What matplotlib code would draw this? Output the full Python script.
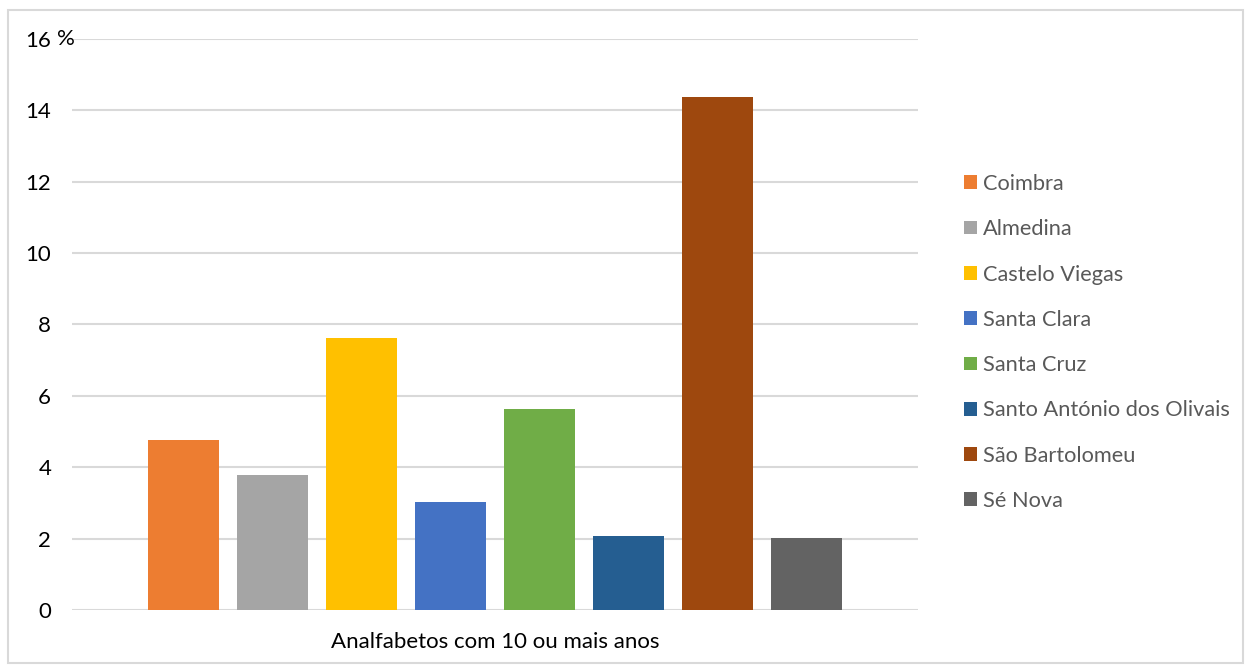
import matplotlib.pyplot as plt
from matplotlib.patches import Rectangle

plt.rcParams['font.family'] = ['Lato', 'DejaVu Sans']

freguesias = ['Coimbra', 'Almedina', 'Castelo Viegas', 'Santa Clara',
              'Santa Cruz', 'Santo António dos Olivais', 'São Bartolomeu',
              'Sé Nova']
valores = [4.77, 3.79, 7.63, 3.04, 5.64, 2.06, 14.38, 2.03]
cores = ['#ED7D31', '#A5A5A5', '#FFC000', '#4472C4',
         '#70AD47', '#255E91', '#9E480E', '#636363']
yticks = [0, 2, 4, 6, 8, 10, 12, 14, 16]
categoria = 'Analfabetos com 10 ou mais anos'

fs = 16

fig = plt.figure(figsize=(12.46, 6.65), dpi=100)
ax = fig.add_axes([0.0578, 0.0827, 0.679, 0.8587])

for i, (nome, v, c) in enumerate(zip(freguesias, valores, cores)):
    ax.bar(i, v, width=0.8, color=c, label=nome, zorder=3)

ax.set_ylim(0, 16)
ax.set_xlim(-1.254, len(valores) - 1 + 1.254)
ax.set_yticks(yticks)
ax.set_yticklabels([str(t) for t in yticks], fontsize=fs, color='#000000')
ax.tick_params(axis='y', length=0, pad=15)
ax.set_xticks([])
ax.yaxis.grid(True, color='#d9d9d9', lw=1.5, zorder=0)
for s in ax.spines.values():
    s.set_visible(False)

# unidade junto ao 16
ax.text(-1.254 - 0.17, 16, '%', fontsize=fs, ha='left', va='center')

ax.text(0.5, -0.038, categoria, transform=ax.transAxes, ha='center',
        va='top', fontsize=fs, color='#000000')

leg = fig.legend(loc='center left', bbox_to_anchor=(0.765, 0.485),
                 frameon=False, fontsize=15.7, handlelength=0.6,
                 handleheight=0.6, handletextpad=0.25, labelspacing=1.16,
                 borderpad=0)
for t in leg.get_texts():
    t.set_color('#595959')

# moldura exterior
fig.patches.append(Rectangle((0.0064, 0.003), 0.991, 0.982,
                             transform=fig.transFigure, fill=False,
                             edgecolor='#d9d9d9', lw=1.5))

plt.savefig('out.png', dpi=100)
